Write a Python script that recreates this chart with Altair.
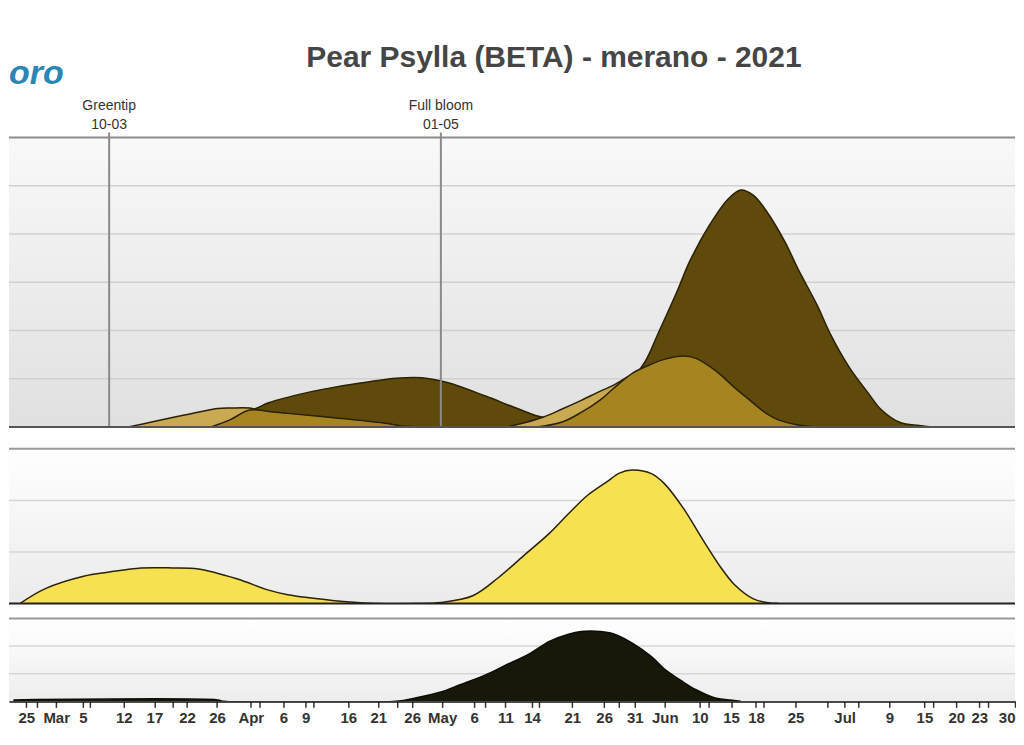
import json
import altair as alt
import pandas as pd

# ---------------- data (x = day of year 2021) ----------------
title_text = "Pear Psylla (BETA) - merano - 2021"
logo_text = "oro"

pheno_day = [69, 121]
pheno_name = ["Greentip", "Full bloom"]
pheno_date = ["10-03", "01-05"]

# tick positions (day of year)
tick_days = [56, 60.7, 64.9, 71.3, 76.1, 81.2, 85.9, 91.2, 96.3, 99.8, 106.5, 111.2,
             116.5, 121.2, 126.2, 131.1, 135.3, 141.6, 146.6, 151.4, 156.1, 161.6,
             166.5, 170.4, 176.6, 184.3, 191.3, 196.8, 201.8, 205.4, 211]
tick_labels = ["25", "Mar", "5", "12", "17", "22", "26", "Apr", "6", "9", "16", "21",
               "26", "May", "6", "11", "14", "21", "26", "31", "Jun", "10", "15", "18",
               "25", "Jul", "9", "15", "20", "23", "30"]
minor_days = [57.7, 66, 79, 92.6, 101, 114.2, 127.9, 136.4, 148.9, 163, 171.6, 181.6,
              186.5, 198.2, 206.8]

# panel 1 series
dark_day = [80, 84, 88, 92, 94, 100, 105, 110, 114, 118, 122, 128, 133, 137, 140, 145,
            150, 153, 155, 158, 160, 163, 166, 168, 170, 172, 175, 177, 180, 182,
            185, 188, 190, 193, 196, 198]
dark_val = [0, 0.08, 0.2, 0.38, 0.5, 0.71, 0.84, 0.94, 1.01, 1.02, 0.92, 0.64, 0.38,
            0.2, 0.22, 0.42, 0.85, 1.35, 1.92, 2.8, 3.43, 4.16, 4.72, 4.91, 4.8,
            4.48, 3.82, 3.27, 2.52, 1.94, 1.24, 0.7, 0.36, 0.09, 0.03, 0]

tan_day = [72, 76, 81, 86, 88, 91, 95, 100, 104, 131, 133, 137, 140, 143, 146, 148,
           151, 153, 156, 160, 165, 170, 173]
tan_val = [0, 0.11, 0.25, 0.38, 0.39, 0.39, 0.25, 0.12, 0, 0, 0.05, 0.2, 0.37, 0.55,
           0.74, 0.86, 1.08, 1.15, 1.1, 0.8, 0.4, 0.1, 0]

gold_day = [85, 88, 91, 94, 97, 105, 112, 115, 118, 136, 140, 143, 146, 148, 151, 154,
            156, 159, 161, 164, 167, 169, 172, 174, 177, 180]
gold_val = [0, 0.15, 0.35, 0.32, 0.28, 0.18, 0.08, 0.02, 0, 0, 0.1, 0.3, 0.56, 0.79,
            1.11, 1.3, 1.4, 1.47, 1.42, 1.17, 0.82, 0.6, 0.28, 0.14, 0.04, 0]

# panel 2 series
yellow_day = [55, 59, 65, 69, 74, 79, 83, 89, 94, 97, 104, 108, 111, 117, 121, 126,
              130, 134, 138, 141, 144, 147, 149, 151, 154, 156, 159, 162, 165, 167,
              170, 172, 174]
yellow_val = [0, 0.29, 0.53, 0.61, 0.69, 0.69, 0.67, 0.48, 0.26, 0.17, 0.06, 0.02, 0,
              0, 0.02, 0.15, 0.5, 0.93, 1.36, 1.74, 2.1, 2.36, 2.53, 2.59, 2.52, 2.33,
              1.85, 1.25, 0.68, 0.37, 0.09, 0.02, 0]

# panel 3 series
black_day = [54, 86, 87, 114, 117, 121, 124, 128, 131, 135, 138, 141, 143, 146, 148,
             151, 154, 156, 159, 161, 164, 167, 168]
black_val = [0.05, 0.05, 0, 0, 0.12, 0.34, 0.6, 0.96, 1.29, 1.74, 2.17, 2.43, 2.53,
             2.53, 2.45, 2.11, 1.62, 1.18, 0.7, 0.42, 0.12, 0.03, 0]

grid1 = [1, 2, 3, 4, 5]
grid2 = [1, 2]
grid3 = [1, 2]

# ---------------- layout ----------------
W = 1008
H1, H2, H3 = 290, 155, 83
FONT = "Liberation Sans"
XDOM = [53.3, 211]

one = pd.DataFrame({"k": [0]})


def xenc(axis=None):
    return alt.X("day:Q", scale=alt.Scale(domain=XDOM, nice=False, zero=False), axis=axis)


def yscale(top):
    return alt.Scale(domain=[0, top], nice=False, zero=True)


def background(h, c0, c1):
    return alt.Chart(one).mark_rect(
        fill={"gradient": "linear", "x1": 0, "x2": 0, "y1": 0, "y2": 1,
              "stops": [{"offset": 0, "color": c0}, {"offset": 1, "color": c1}]}
    ).encode(x=alt.value(0), x2=alt.value(W), y=alt.value(0), y2=alt.value(h))


def grid(vals, top, color):
    return alt.Chart(pd.DataFrame({"v": vals})).mark_rule(color=color, strokeWidth=1.5).encode(
        y=alt.Y("v:Q", scale=yscale(top), axis=None), x=alt.value(0), x2=alt.value(W))


def border(y, color, w=2):
    return alt.Chart(one).mark_rule(color=color, strokeWidth=w).encode(
        y=alt.value(y), x=alt.value(0), x2=alt.value(W))


def area(days, vals, color, top, axis=None, line_color="#2a2200", interp="catmull-rom"):
    df = pd.DataFrame({"day": days, "v": vals})
    return alt.Chart(df).mark_area(
        color=color, opacity=1, interpolate=interp, clip=True,
        line={"color": line_color, "strokeWidth": 1.5},
    ).encode(x=xenc(axis), y=alt.Y("v:Q", scale=yscale(top), axis=None))


# ---------- panel 1 ----------
pheno_df = pd.DataFrame({"day": pheno_day, "name": pheno_name, "date": pheno_date})
pheno_rules = alt.Chart(pheno_df).mark_rule(color="#8a8a8a", strokeWidth=2).encode(
    x=xenc(), y=alt.value(-5), y2=alt.value(H1))
pheno_names = alt.Chart(pheno_df).mark_text(
    font=FONT, fontSize=14, color="#333333", baseline="alphabetic").encode(
    x=xenc(), y=alt.value(-28), text="name:N")
pheno_dates = alt.Chart(pheno_df).mark_text(
    font=FONT, fontSize=14, color="#333333", baseline="alphabetic").encode(
    x=xenc(), y=alt.value(-8), text="date:N")
title_mark = alt.Chart(pd.DataFrame({"t": [title_text]})).mark_text(
    font=FONT, fontSize=30, fontWeight="bold", color="#454545", baseline="alphabetic",
    align="center").encode(x=alt.value(546), y=alt.value(-71), text="t:N")
logo_mark = alt.Chart(pd.DataFrame({"t": [logo_text]})).mark_text(
    font=FONT, fontSize=34, fontWeight="bold", fontStyle="italic", color="#2a86b2",
    baseline="alphabetic", align="left").encode(x=alt.value(0), y=alt.value(-54), text="t:N")

p1 = alt.layer(
    background(H1, "#f9f9f9", "#e0e0e0"),
    grid(grid1, 6, "#d0d0d0"),
    area(dark_day, dark_val, "#5f4a0c", 6),
    area(tan_day, tan_val, "#c9aa52", 6),
    area(gold_day, gold_val, "#a68521", 6),
    pheno_rules,
    border(0, "#8c8c8c"),
    border(H1, "#555555"),
    pheno_names, pheno_dates, title_mark, logo_mark,
).properties(width=W, height=H1)

# ---------- panel 2 ----------
p2 = alt.layer(
    background(H2, "#ffffff", "#ebebeb"),
    grid(grid2, 3, "#d6d6d6"),
    area(yellow_day, yellow_val, "#f6e250", 3),
    border(0, "#999999"),
    border(H2, "#222222"),
).properties(width=W, height=H2)

# ---------- panel 3 ----------
all_ticks = sorted(tick_days + minor_days)
label_expr = (
    f"indexof({json.dumps(tick_days)}, datum.value) >= 0 ? "
    f"{json.dumps(tick_labels)}[indexof({json.dumps(tick_days)}, datum.value)] : ''"
)
x_axis = alt.Axis(
    values=all_ticks, labelExpr=label_expr, title=None, grid=False,
    tickSize=6, tickColor="#333333", tickWidth=1.5,
    domainColor="#111111", domainWidth=2,
    labelFont=FONT, labelFontSize=15, labelFontWeight="bold", labelColor="#333333",
    labelPadding=3, labelOverlap=False, labelFlush=3,
)
p3 = alt.layer(
    background(H3, "#ffffff", "#ededed"),
    grid(grid3, 3, "#d6d6d6"),
    area(black_day, black_val, "#17170a", 3, axis=x_axis, line_color="#0d0d05"),
    border(0, "#999999"),
).properties(width=W, height=H3)

chart = alt.vconcat(
    p1,
    alt.vconcat(p2, p3, spacing=13),
    spacing=20,
).properties(
    padding={"left": 0, "right": 0, "top": 34, "bottom": 5},
    background="white",
).configure_view(stroke=None)

chart.save("out.html", embed_options={"renderer": "svg", "actions": False})
